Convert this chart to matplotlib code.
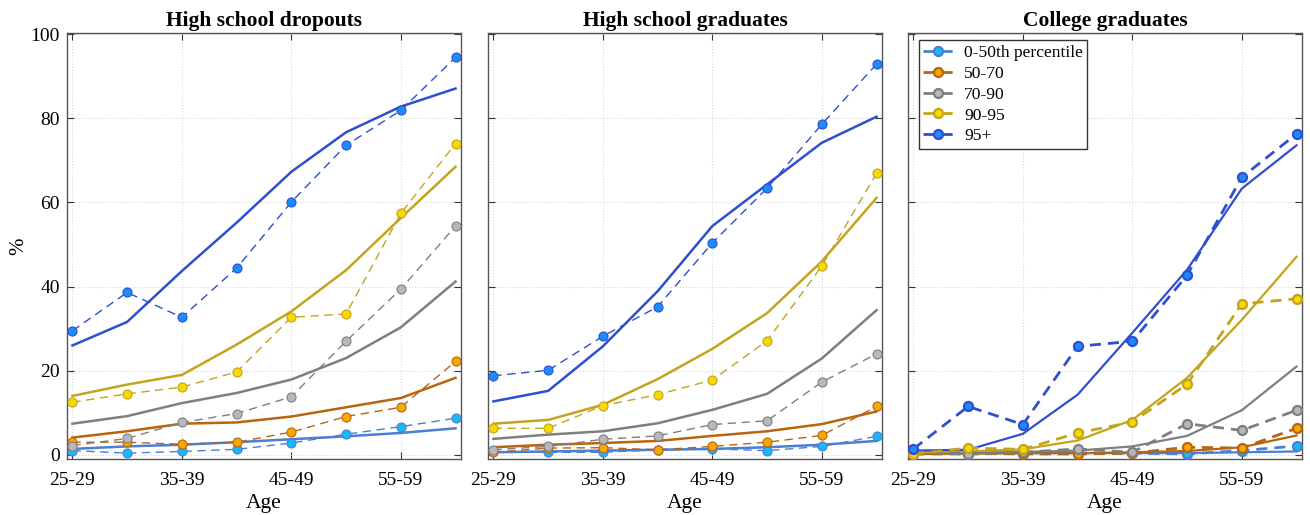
import matplotlib
matplotlib.use('Agg')
import matplotlib.pyplot as plt

plt.rcParams['font.family'] = ['Liberation Serif', 'DejaVu Serif']

# Age groups (x axis)
ages = ["25-29", "30-34", "35-39", "40-44", "45-49", "50-54", "55-59", "60-64"]
groups = ["0-50th percentile", "50-70", "70-90", "90-95", "95+"]
panels = ["High school dropouts", "High school graduates", "College graduates"]

# observed values (dashed with markers), one list per percentile group
hsd_obs = [
    [1.0, 0.4, 0.8, 1.3, 2.8, 4.9, 6.7, 8.7],
    [3.0, 3.0, 2.5, 3.0, 5.4, 9.1, 11.3, 22.2],
    [2.2, 3.9, 7.7, 9.8, 13.8, 27.0, 39.4, 54.4],
    [12.5, 14.5, 16.1, 19.7, 32.7, 33.5, 57.4, 74.0],
    [29.5, 38.6, 32.7, 44.4, 60.1, 73.6, 81.9, 94.5],
]
hsg_obs = [
    [0.8, 0.6, 0.6, 1.2, 1.4, 1.0, 2.0, 4.4],
    [0.6, 1.6, 1.7, 1.2, 2.0, 3.0, 4.6, 11.5],
    [1.2, 2.0, 3.7, 4.5, 7.2, 8.1, 17.3, 24.0],
    [6.3, 6.3, 11.7, 14.3, 17.8, 27.1, 44.9, 66.9],
    [18.8, 20.1, 28.2, 35.2, 50.4, 63.4, 78.6, 92.9],
]
col_obs = [
    [0.2, 0.2, 0.4, 0.4, 0.4, 0.2, 1.0, 2.1],
    [0.2, 0.4, 0.2, 0.2, 0.4, 1.8, 1.6, 6.3],
    [0.6, 0.2, 0.6, 1.4, 0.6, 7.4, 5.8, 10.6],
    [0.2, 1.6, 1.3, 5.2, 7.8, 16.8, 35.9, 37.1],
    [1.4, 11.5, 7.2, 25.8, 27.0, 42.7, 66.0, 76.3],
]

# model values (solid lines)
hsd_mod = [
    [1.4, 2.0, 2.4, 3.0, 3.7, 4.4, 5.2, 6.3],
    [4.1, 5.6, 7.4, 7.7, 9.1, 11.3, 13.5, 18.3],
    [7.4, 9.2, 12.3, 14.7, 17.9, 23.0, 30.3, 41.2],
    [14.0, 16.7, 19.0, 26.2, 34.1, 43.9, 56.3, 68.5],
    [26.0, 31.6, 43.7, 55.2, 67.3, 76.7, 82.8, 87.1],
]
hsg_mod = [
    [0.6, 0.8, 1.0, 1.2, 1.4, 1.8, 2.4, 3.3],
    [1.8, 2.4, 2.8, 3.3, 4.5, 5.6, 7.3, 10.3],
    [3.8, 4.8, 5.6, 7.5, 10.7, 14.5, 22.9, 34.4],
    [7.4, 8.3, 11.9, 18.0, 25.2, 33.7, 46.0, 61.1],
    [12.7, 15.2, 25.8, 38.9, 54.4, 64.3, 74.2, 80.4],
]
col_mod = [
    [0.4, 0.4, 0.4, 0.4, 0.4, 0.4, 0.6, 0.8],
    [0.2, 0.3, 0.4, 0.4, 0.6, 0.9, 1.8, 4.6],
    [0.6, 0.6, 0.7, 1.0, 2.0, 4.5, 10.6, 21.0],
    [0.6, 0.8, 1.3, 3.4, 8.3, 18.3, 32.1, 47.1],
    [1.0, 1.2, 5.0, 14.3, 29.0, 44.0, 63.3, 73.6],
]

obs = [hsd_obs, hsg_obs, col_obs]
mod = [hsd_mod, hsg_mod, col_mod]

line_colors = ['#4a7fd4', '#b8650f', '#7f7f7f', '#c4a41c', '#2f4fce']
face_colors = ['#1ab8f5', '#f5a800', '#b8b8b8', '#f7d800', '#1a8cff']

fig = plt.figure(figsize=(13.1, 5.15), dpi=100)
lefts = [0.0511, 0.3725, 0.6931]
x = list(range(len(ages)))

for p in range(3):
    ax = fig.add_axes([lefts[p], 0.1087, 0.3008, 0.8272])
    thick = (p == 2)
    for g in range(5):
        ax.plot(x, mod[p][g], '-', color=line_colors[g], lw=1.8 if not thick else 1.6, zorder=2)
        ax.plot(x, obs[p][g], '--', color=line_colors[g], lw=2.0 if thick else 1.0,
                dashes=(4, 2.5) if thick else (6, 4),
                marker='o', ms=6.5, mfc=face_colors[g], mec=line_colors[g],
                mew=1.6 if thick else 0.8, label=groups[g], zorder=3)
    ax.set_xlim(-0.1, 7.1)
    ax.set_ylim(-1, 100.3)
    ax.set_xticks(x[::2])
    ax.set_xticklabels(ages[::2])
    ax.set_yticks([0, 20, 40, 60, 80, 100])
    if p == 0:
        ax.set_ylabel('%', fontsize=15, labelpad=2)
    else:
        ax.set_yticklabels([])
    ax.set_xlabel('Age', fontsize=15.5, labelpad=4)
    ax.set_title(panels[p], fontsize=15.5, fontweight='bold', pad=5)
    ax.grid(True, linestyle=':', color='#d8d8d8', lw=0.8)
    ax.tick_params(direction='in', top=True, right=True, labelsize=14, length=5,
                   color='#333333', pad=5)
    ax.tick_params(axis='x', pad=9)
    for s in ax.spines.values():
        s.set_color('#555555')
        s.set_linewidth(1.0)
    if p == 2:
        leg = ax.legend(loc='upper left', fontsize=12.6, frameon=True, fancybox=False,
                        edgecolor='#333333', framealpha=1, handlelength=1.7,
                        handletextpad=0.65, borderpad=0.25, labelspacing=0.26,
                        bbox_to_anchor=(0.005, 1.003))
        leg.get_frame().set_linewidth(1.0)

fig.savefig('out.png', dpi=100)
plt.close()
